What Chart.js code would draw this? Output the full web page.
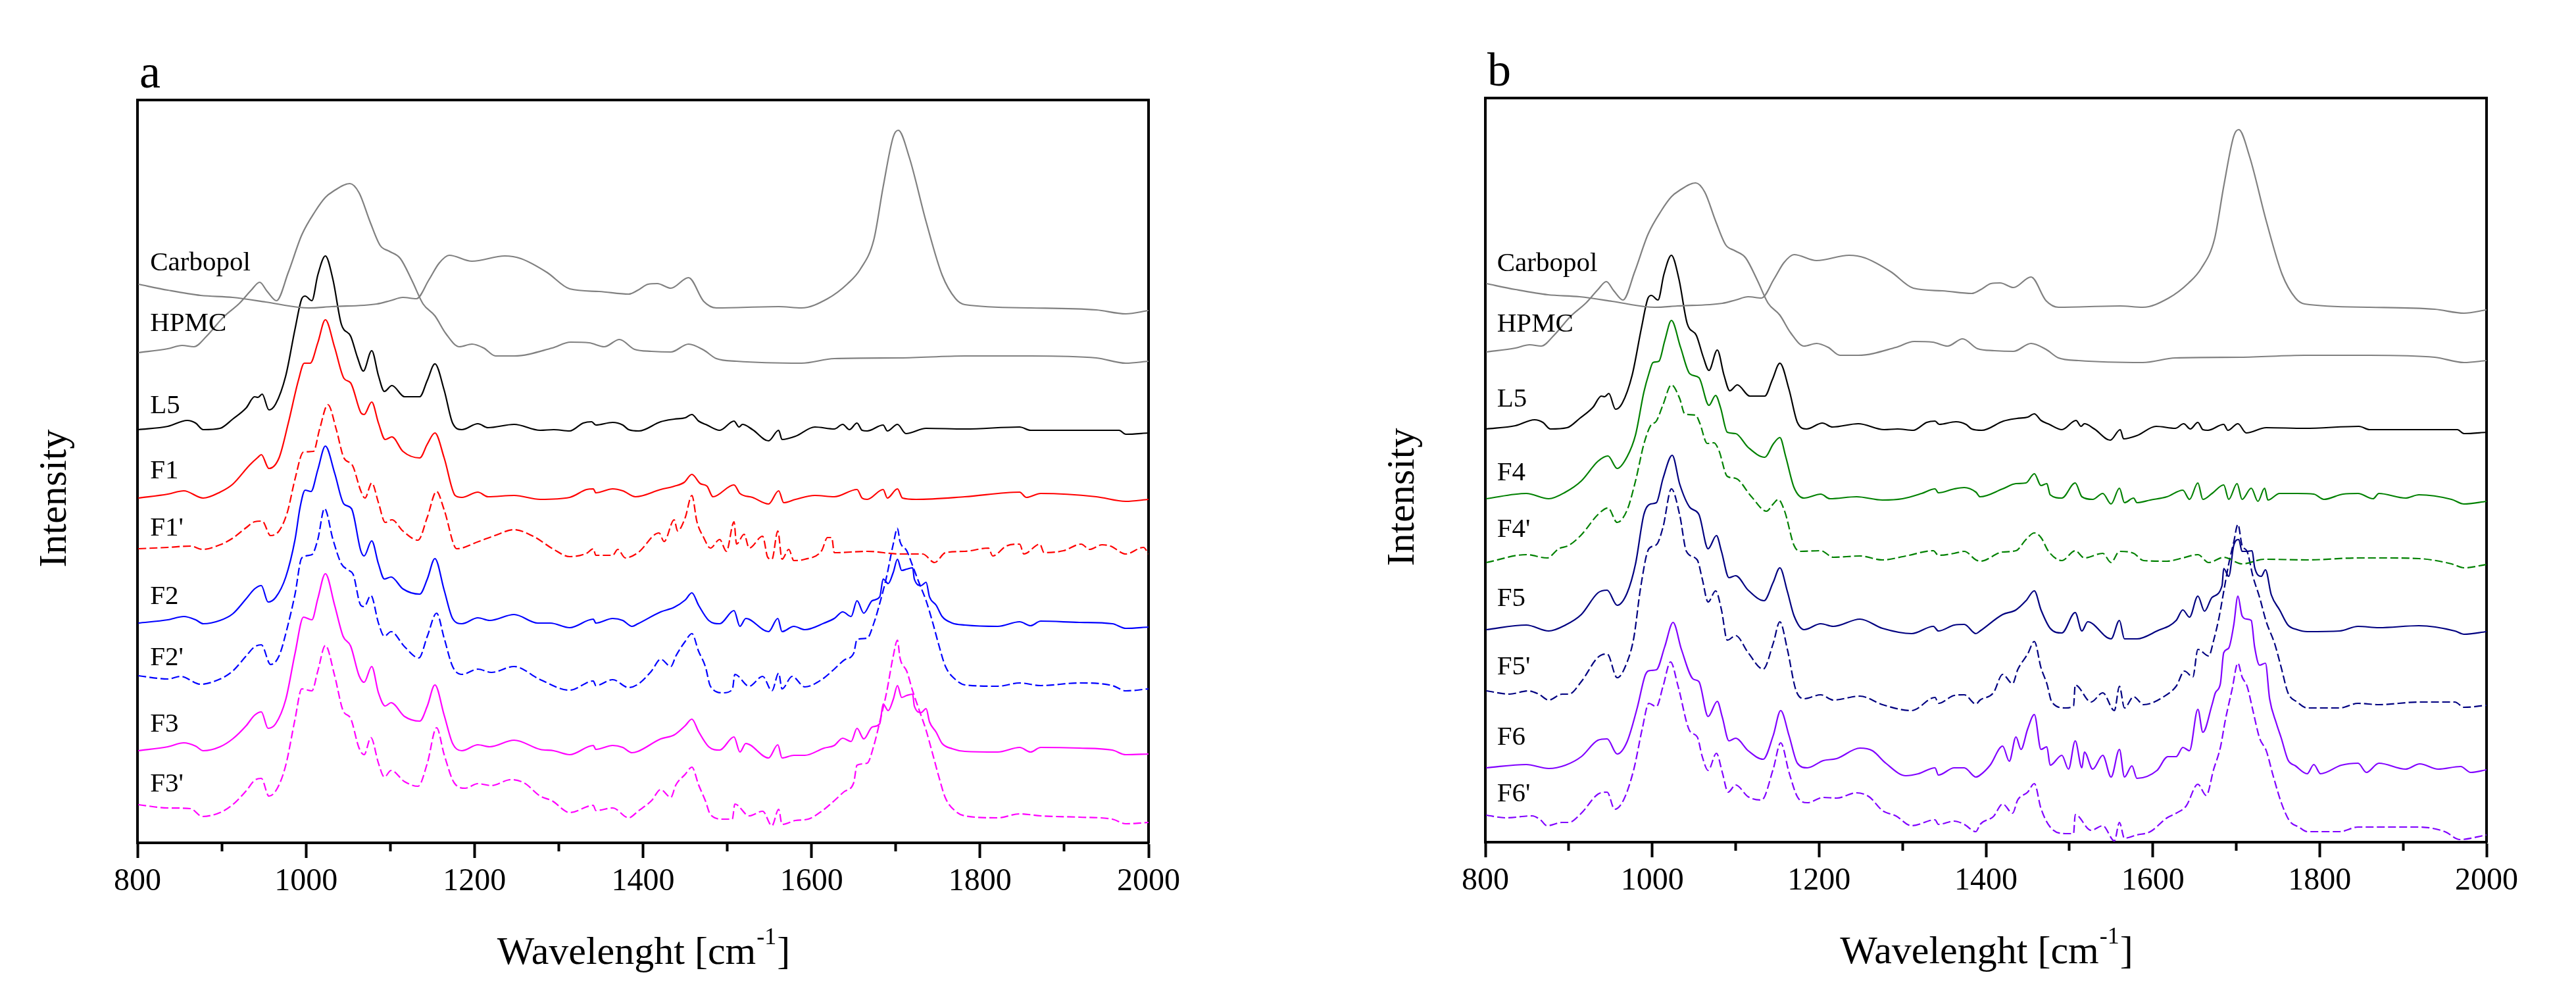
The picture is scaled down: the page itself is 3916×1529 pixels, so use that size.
<!DOCTYPE html>
<html>
<head>
<meta charset="utf-8">
<title>Spectra a / b</title>
<script src="https://cdn.jsdelivr.net/npm/chart.js@4.4.1/dist/chart.umd.min.js"></script>
<style>
  html, body { margin: 0; padding: 0; background: #fff; }
  #wrap { position: relative; width: 3916px; height: 1529px; }
  .panel { position: absolute; top: 0; width: 1958px; height: 1529px; }
  .probe { position: absolute; left: -9999px; font-family: "Liberation Serif"; }
</style>
</head>
<body>
<div id="wrap">
  <div class="panel" style="left:0"><canvas id="chartA"></canvas></div>
  <div class="panel" style="left:1958px"><canvas id="chartB"></canvas></div>
</div>
<span class="probe">Wavelenght 0123456789</span>
<script>
// x axis (wavenumber, cm-1)
const xMajorTicks = [800, 1000, 1200, 1400, 1600, 1800, 2000];
const xMinorTicks = [900, 1100, 1300, 1500, 1700, 1900];

// spectra, [wavenumber, stacked intensity (a.u.)]
const carbopol = [[801,849],[836,840],[875,832],[913,829],[952,822],[991,814],[1003,813],[1030,815],[1084,819],[1100,824],[1115,829],[1131,827],[1146,856],[1158,881],[1170,893],[1197,884],[1236,892],[1255,888],[1286,867],[1313,842],[1348,838],[1383,834],[1394,840],[1406,849],[1417,850],[1433,843],[1454,859],[1472,823],[1487,813],[1561,815],[1588,813],[1619,827],[1643,850],[1658,872],[1674,917],[1685,997],[1697,1073],[1703,1083],[1716,1042],[1736,944],[1755,863],[1771,827],[1782,818],[1860,813],[1938,810],[1973,804],[2000,809]];

const hpmc = [[801,745],[836,751],[853,756],[867,754],[882,770],[902,799],[921,820],[935,840],[945,852],[954,838],[965,824],[979,867],[995,924],[1011,960],[1023,981],[1032,990],[1052,1002],[1063,988],[1076,944],[1088,908],[1099,899],[1112,888],[1126,854],[1139,819],[1153,801],[1166,774],[1182,754],[1197,758],[1211,752],[1225,740],[1247,740],[1292,752],[1314,761],[1336,760],[1354,754],[1372,765],[1390,750],[1410,747],[1433,746],[1454,758],[1472,749],[1487,736],[1511,732],[1588,729],[1627,736],[1705,737],[1782,740],[1860,740],[1938,737],[1973,729],[2000,732]];

const l5 = [[801,628],[836,633],[859,642],[869,638],[878,628],[898,630],[913,644],[929,661],[939,678],[943,677],[948,682],[956,658],[964,667],[976,710],[987,781],[995,827],[999,831],[1007,824],[1014,863],[1023,892],[1032,856],[1042,788],[1053,770],[1061,738],[1068,717],[1078,748],[1086,710],[1093,686],[1102,695],[1117,678],[1135,678],[1144,703],[1153,728],[1164,688],[1174,638],[1185,628],[1204,637],[1216,631],[1247,636],[1278,627],[1294,628],[1313,626],[1329,638],[1339,640],[1344,635],[1364,639],[1376,635],[1383,628],[1395,626],[1421,640],[1437,644],[1450,646],[1458,651],[1466,641],[1476,635],[1491,627],[1508,641],[1514,632],[1518,636],[1530,628],[1549,611],[1561,627],[1565,613],[1581,618],[1604,632],[1627,629],[1637,636],[1645,628],[1654,638],[1660,627],[1666,626],[1685,635],[1690,626],[1702,636],[1712,622],[1736,630],[1782,629],[1847,632],[1860,627],[1899,627],[1965,627],[1973,621],[2000,623]];

const f1 = [[801,524],[836,530],[855,535],[878,524],[898,533],[913,545],[933,574],[943,586],[947,590],[956,569],[968,585],[979,638],[991,703],[998,729],[1005,729],[1014,760],[1023,795],[1034,753],[1045,706],[1053,699],[1065,654],[1069,651],[1078,670],[1086,638],[1094,613],[1102,617],[1115,595],[1135,585],[1144,606],[1153,623],[1164,585],[1177,528],[1185,525],[1204,533],[1216,526],[1247,528],[1278,522],[1313,525],[1333,537],[1341,538],[1344,532],[1364,538],[1376,535],[1391,526],[1421,537],[1437,542],[1449,548],[1458,560],[1468,546],[1476,542],[1483,526],[1508,544],[1515,531],[1530,525],[1549,515],[1561,535],[1567,517],[1581,522],[1604,528],[1627,526],[1654,537],[1660,524],[1666,522],[1685,537],[1690,524],[1702,538],[1708,524],[1724,522],[1782,526],[1847,533],[1855,525],[1872,531],[1938,526],[1973,519],[2000,522]];

const f1p = [[801,447],[836,449],[863,451],[877,446],[898,453],[913,463],[929,479],[939,488],[948,489],[958,467],[968,474],[978,503],[987,553],[997,594],[1009,595],[1016,628],[1026,666],[1036,628],[1045,585],[1055,574],[1065,535],[1070,524],[1078,547],[1086,517],[1094,487],[1102,491],[1115,474],[1133,460],[1144,495],[1155,534],[1164,506],[1179,447],[1205,458],[1224,467],[1247,476],[1271,465],[1294,446],[1313,435],[1333,440],[1341,447],[1344,437],[1364,437],[1370,446],[1379,433],[1394,441],[1419,471],[1425,458],[1437,491],[1441,474],[1450,494],[1458,528],[1464,488],[1472,464],[1480,448],[1491,461],[1499,443],[1508,488],[1511,454],[1520,469],[1526,448],[1542,466],[1548,434],[1553,431],[1560,474],[1565,431],[1573,446],[1579,429],[1592,431],[1612,444],[1619,464],[1624,464],[1627,441],[1666,443],[1705,439],[1732,439],[1746,426],[1759,441],[1782,443],[1810,448],[1815,436],[1831,451],[1847,454],[1852,439],[1871,454],[1876,441],[1899,444],[1920,454],[1930,446],[1945,453],[1955,451],[1973,439],[1994,449],[2000,439]];

const f2 = [[801,334],[836,339],[855,344],[869,339],[878,333],[898,338],[913,348],[929,371],[939,386],[947,391],[955,366],[964,373],[976,404],[987,461],[993,510],[999,536],[1006,534],[1014,567],[1023,603],[1034,562],[1045,515],[1054,508],[1065,444],[1069,436],[1078,459],[1086,424],[1093,401],[1101,404],[1115,386],[1135,378],[1144,401],[1153,432],[1164,384],[1174,341],[1185,333],[1204,342],[1218,338],[1247,347],[1275,334],[1290,334],[1313,327],[1341,340],[1344,334],[1364,341],[1376,338],[1387,329],[1394,333],[1421,351],[1437,358],[1450,369],[1458,380],[1466,361],[1478,338],[1491,333],[1508,353],[1515,329],[1522,341],[1549,321],[1560,341],[1565,321],[1579,329],[1592,324],[1615,334],[1627,341],[1637,351],[1647,344],[1654,368],[1662,349],[1672,368],[1681,374],[1685,401],[1691,394],[1697,411],[1702,431],[1707,414],[1713,416],[1720,418],[1722,401],[1730,391],[1736,396],[1740,374],[1748,361],[1755,344],[1767,334],[1782,331],[1821,329],[1847,336],[1860,330],[1872,337],[1918,335],[1957,333],[1973,326],[2000,328]];

const f2p = [[801,254],[836,249],[851,253],[875,241],[898,249],[913,261],[929,284],[939,298],[947,301],[958,271],[968,284],[978,328],[987,378],[995,433],[1007,438],[1014,461],[1022,508],[1032,461],[1042,424],[1051,414],[1056,408],[1065,361],[1069,359],[1077,376],[1086,334],[1093,314],[1101,321],[1117,298],[1134,281],[1144,314],[1155,349],[1164,311],[1174,268],[1185,256],[1204,264],[1220,259],[1247,268],[1278,248],[1313,232],[1341,246],[1344,239],[1364,248],[1383,236],[1394,241],[1410,261],[1421,279],[1433,268],[1439,284],[1450,306],[1458,318],[1466,291],[1474,268],[1480,238],[1495,228],[1506,233],[1509,256],[1526,238],[1542,253],[1553,231],[1561,258],[1565,234],[1577,253],[1592,237],[1612,248],[1627,264],[1639,278],[1650,288],[1654,309],[1666,311],[1674,334],[1681,364],[1689,404],[1697,454],[1702,478],[1705,458],[1713,444],[1720,421],[1728,394],[1736,368],[1744,334],[1751,301],[1759,268],[1771,248],[1782,240],[1821,238],[1847,243],[1872,239],[1918,243],[1957,239],[1973,231],[2000,234]];

const f3 = [[801,140],[836,146],[855,152],[869,147],[878,140],[898,146],[913,158],[929,178],[939,194],[947,199],[955,174],[964,181],[976,218],[987,288],[997,343],[1007,339],[1014,371],[1023,409],[1034,361],[1044,314],[1053,299],[1063,254],[1069,244],[1078,268],[1086,228],[1094,208],[1101,213],[1117,192],[1135,185],[1144,208],[1153,240],[1164,194],[1174,151],[1185,140],[1204,149],[1218,146],[1247,156],[1278,142],[1294,140],[1313,134],[1341,148],[1344,142],[1364,148],[1376,145],[1387,137],[1394,139],[1421,158],[1437,164],[1450,178],[1458,188],[1466,169],[1478,146],[1491,141],[1508,161],[1515,138],[1522,151],[1549,129],[1560,149],[1565,129],[1579,133],[1592,133],[1615,144],[1627,148],[1637,159],[1647,154],[1654,174],[1662,158],[1672,176],[1681,181],[1685,211],[1691,201],[1697,218],[1702,239],[1707,221],[1713,224],[1720,226],[1722,208],[1730,198],[1736,204],[1740,184],[1748,168],[1755,151],[1767,143],[1782,139],[1821,138],[1847,145],[1860,138],[1872,145],[1918,144],[1957,141],[1973,134],[2000,135]];

const f3p = [[801,58],[836,53],[863,52],[877,40],[898,46],[913,58],[929,79],[939,95],[947,98],[956,71],[966,83],[976,118],[987,188],[995,234],[1007,231],[1014,261],[1023,300],[1034,254],[1044,201],[1053,189],[1063,144],[1069,134],[1077,160],[1086,121],[1093,100],[1101,110],[1117,93],[1133,86],[1144,121],[1155,175],[1164,134],[1176,91],[1189,83],[1204,90],[1220,87],[1243,96],[1259,91],[1278,71],[1292,64],[1313,46],[1341,57],[1344,49],[1364,53],[1383,38],[1394,48],[1410,64],[1421,81],[1433,69],[1439,88],[1450,104],[1458,115],[1466,88],[1474,64],[1480,43],[1495,36],[1506,36],[1509,59],[1526,41],[1542,48],[1553,26],[1561,51],[1565,28],[1581,34],[1596,36],[1612,48],[1627,64],[1639,78],[1650,91],[1654,118],[1666,121],[1674,148],[1681,184],[1689,228],[1697,284],[1702,308],[1705,281],[1713,261],[1720,231],[1728,201],[1736,171],[1744,134],[1751,101],[1759,68],[1771,48],[1782,41],[1821,38],[1847,44],[1872,41],[1918,39],[1957,36],[1973,29],[2000,31]];

const f4 = [[801,522],[849,530],[876,522],[896,532],[915,549],[935,579],[947,587],[958,568],[970,586],[980,619],[990,684],[996,712],[1001,729],[1008,731],[1015,762],[1023,793],[1034,752],[1045,712],[1056,706],[1068,664],[1076,679],[1082,660],[1090,623],[1100,621],[1115,600],[1135,585],[1145,605],[1153,615],[1160,586],[1170,539],[1182,523],[1202,529],[1213,522],[1245,525],[1276,520],[1300,522],[1323,530],[1339,537],[1343,531],[1362,537],[1374,539],[1388,532],[1393,525],[1420,537],[1436,545],[1448,546],[1458,560],[1466,542],[1473,545],[1477,528],[1491,523],[1507,546],[1515,525],[1528,521],[1540,530],[1550,514],[1560,538],[1566,516],[1577,523],[1581,516],[1597,520],[1617,525],[1636,535],[1644,521],[1654,546],[1660,521],[1671,530],[1685,543],[1691,521],[1701,545],[1707,521],[1718,538],[1726,518],[1734,538],[1738,520],[1752,530],[1773,530],[1793,529],[1805,521],[1828,529],[1846,530],[1864,522],[1871,530],[1903,523],[1919,528],[1958,521],[1973,514],[2000,518]];

const f4p = [[801,425],[849,437],[874,432],[888,446],[900,451],[915,467],[935,498],[947,508],[958,486],[970,505],[980,549],[990,605],[998,633],[1005,640],[1013,665],[1023,695],[1033,674],[1039,651],[1052,649],[1057,637],[1066,606],[1074,607],[1080,595],[1090,556],[1100,553],[1119,525],[1137,503],[1145,514],[1151,521],[1159,502],[1170,451],[1178,442],[1202,443],[1217,433],[1249,435],[1276,429],[1304,435],[1337,443],[1343,436],[1362,439],[1374,442],[1388,429],[1393,427],[1420,441],[1436,443],[1448,460],[1458,470],[1466,463],[1475,442],[1491,428],[1507,443],[1518,432],[1540,439],[1550,425],[1560,442],[1577,439],[1589,428],[1617,427],[1636,432],[1654,437],[1667,425],[1685,433],[1707,423],[1734,430],[1785,429],[1846,432],[1871,432],[1919,431],[1958,423],[1973,417],[2000,422]];

const f5 = [[801,323],[849,330],[876,321],[896,330],[915,346],[935,379],[946,383],[958,360],[970,379],[980,423],[990,498],[998,514],[1005,516],[1013,553],[1024,588],[1033,544],[1045,509],[1056,498],[1067,446],[1077,466],[1083,442],[1092,402],[1100,405],[1115,383],[1134,367],[1145,395],[1153,417],[1162,381],[1170,344],[1182,323],[1202,332],[1217,328],[1249,339],[1276,325],[1311,317],[1337,328],[1343,321],[1362,330],[1374,331],[1388,317],[1393,321],[1420,346],[1436,353],[1448,367],[1458,382],[1466,353],[1477,325],[1491,318],[1507,349],[1515,321],[1522,335],[1550,309],[1560,337],[1566,309],[1581,309],[1605,321],[1628,337],[1636,353],[1644,342],[1654,374],[1662,351],[1671,372],[1683,390],[1685,416],[1691,404],[1697,451],[1703,460],[1707,442],[1713,442],[1719,443],[1722,418],[1730,404],[1735,414],[1742,376],[1752,353],[1762,330],[1773,323],[1785,320],[1824,321],[1846,328],[1871,326],[1919,329],[1962,321],[1973,316],[2000,320]];

const f5p = [[801,230],[829,225],[851,230],[864,225],[876,216],[892,225],[900,225],[915,244],[935,281],[946,286],[958,250],[970,274],[978,311],[986,386],[996,446],[1005,452],[1013,479],[1023,537],[1033,497],[1041,442],[1054,429],[1060,400],[1067,365],[1076,382],[1083,353],[1090,307],[1100,314],[1115,288],[1133,263],[1145,302],[1153,335],[1162,293],[1172,232],[1182,218],[1202,224],[1217,216],[1249,222],[1276,209],[1311,200],[1339,220],[1343,211],[1362,223],[1374,224],[1388,210],[1393,216],[1409,227],[1420,255],[1432,241],[1438,262],[1450,286],[1458,305],[1466,265],[1473,241],[1479,213],[1495,204],[1505,207],[1507,239],[1526,213],[1540,227],[1554,200],[1560,237],[1566,204],[1577,221],[1589,209],[1613,221],[1628,237],[1638,260],[1648,251],[1654,293],[1667,283],[1673,307],[1679,339],[1685,381],[1691,423],[1697,456],[1702,483],[1707,451],[1713,442],[1720,404],[1728,372],[1736,335],[1746,302],[1754,265],[1762,227],[1773,213],[1785,204],[1824,204],[1846,211],[1871,209],[1919,213],[1962,213],[1973,205],[2000,208]];

const f6 = [[801,113],[849,118],[876,112],[896,117],[915,130],[935,155],[946,157],[958,134],[970,153],[982,204],[992,255],[998,261],[1005,262],[1015,297],[1025,334],[1035,293],[1049,248],[1056,244],[1067,191],[1078,214],[1084,190],[1092,154],[1100,158],[1115,139],[1133,126],[1145,162],[1154,200],[1164,162],[1174,120],[1186,113],[1205,124],[1221,127],[1249,143],[1264,139],[1280,120],[1304,101],[1319,104],[1339,113],[1343,102],[1362,113],[1374,113],[1388,99],[1393,102],[1405,117],[1420,146],[1428,123],[1436,160],[1442,141],[1450,172],[1458,194],[1466,141],[1473,145],[1477,117],[1491,132],[1499,111],[1507,154],[1515,113],[1518,137],[1528,111],[1540,132],[1550,99],[1560,141],[1566,99],[1575,116],[1581,97],[1605,109],[1618,130],[1628,130],[1636,144],[1644,139],[1654,202],[1660,167],[1671,209],[1675,227],[1681,241],[1685,288],[1691,295],[1697,330],[1702,374],[1707,344],[1713,339],[1718,337],[1722,297],[1728,269],[1735,272],[1740,218],[1748,181],[1754,158],[1762,125],[1771,116],[1785,104],[1793,118],[1801,104],[1826,117],[1846,120],[1856,106],[1871,120],[1903,111],[1920,119],[1942,111],[1969,115],[1981,106],[2000,110]];

const f6p = [[801,41],[825,37],[856,40],[866,34],[874,25],[892,30],[900,30],[915,44],[935,73],[946,76],[955,50],[966,65],[978,111],[988,172],[996,211],[1005,206],[1013,237],[1022,274],[1031,237],[1045,169],[1054,160],[1060,130],[1067,109],[1077,135],[1084,106],[1091,76],[1100,87],[1115,69],[1131,64],[1145,111],[1154,151],[1164,106],[1174,69],[1186,60],[1205,68],[1221,67],[1245,75],[1260,69],[1276,48],[1292,40],[1311,25],[1339,34],[1343,27],[1362,32],[1374,27],[1388,16],[1393,27],[1409,39],[1420,58],[1432,44],[1438,64],[1450,76],[1458,89],[1466,51],[1477,23],[1495,13],[1505,13],[1507,42],[1526,18],[1540,25],[1554,2],[1560,30],[1566,6],[1581,11],[1597,16],[1617,37],[1628,44],[1640,55],[1654,88],[1664,71],[1673,111],[1681,144],[1687,186],[1695,232],[1702,272],[1707,251],[1713,237],[1720,200],[1728,158],[1736,139],[1744,102],[1754,60],[1764,32],[1775,23],[1785,16],[1824,16],[1846,23],[1871,23],[1919,23],[1950,16],[1968,4],[2000,11]];

// which curves go in which panel, and how they look
const GRAY = '#808080';
const panelASeries = [
  { name: 'Carbopol', data: carbopol, color: GRAY },
  { name: 'HPMC', data: hpmc, color: GRAY },
  { name: 'L5', data: l5, color: '#000000' },
  { name: 'F1', data: f1, color: '#ff0000' },
  { name: "F1'", data: f1p, color: '#ff0000', dashed: true },
  { name: 'F2', data: f2, color: '#0000ff' },
  { name: "F2'", data: f2p, color: '#0000ff', dashed: true },
  { name: 'F3', data: f3, color: '#ff00ff' },
  { name: "F3'", data: f3p, color: '#ff00ff', dashed: true }
];
const panelBSeries = [
  { name: 'Carbopol', data: carbopol, color: GRAY },
  { name: 'HPMC', data: hpmc, color: GRAY },
  { name: 'L5', data: l5, color: '#000000' },
  { name: 'F4', data: f4, color: '#008000' },
  { name: "F4'", data: f4p, color: '#008000', dashed: true },
  { name: 'F5', data: f5, color: '#000080' },
  { name: "F5'", data: f5p, color: '#000080', dashed: true },
  { name: 'F6', data: f6, color: '#8000ff' },
  { name: "F6'", data: f6p, color: '#8000ff', dashed: true }
];

// where the curve names sit (wavenumber, intensity of text baseline)
const labelSpotsA = [['Carbopol', 815, 870], ['HPMC', 815, 778], ['L5', 815, 653], ['F1', 815, 554], ["F1'", 815, 467],
                     ['F2', 815, 363], ["F2'", 815, 270], ['F3', 815, 169], ["F3'", 815, 78]];
const labelSpotsB = [['Carbopol', 814, 868], ['HPMC', 814, 776], ['L5', 814, 662], ['F4', 814, 550], ["F4'", 814, 464],
                     ['F5', 814, 359], ["F5'", 814, 255], ['F6', 814, 148], ["F6'", 814, 62]];

const SERIF = '"Liberation Serif", "DejaVu Serif", serif';
Chart.defaults.font.family = SERIF;
Chart.defaults.color = '#000';

const PANEL_W = 1958, PANEL_H = 1529;

const panelText = {
  id: 'panelText',
  afterDraw(chart, args, opts) {
    const { ctx, chartArea: ca } = chart;
    const xs = chart.scales.x, ys = chart.scales.y;
    ctx.save();
    ctx.fillStyle = '#000';
    ctx.textBaseline = 'alphabetic';
    ctx.textAlign = 'left';

    // panel letter
    ctx.font = '72px ' + SERIF;
    ctx.fillText(opts.letter, ca.left + 3, ca.top - 19);

    // curve names
    ctx.font = '41px ' + SERIF;
    opts.spots.forEach(([name, xv, yv]) => {
      ctx.fillText(name, xs.getPixelForValue(xv), ys.getPixelForValue(yv));
    });

    // x title with superscript
    const main = 'Wavelenght [cm', sup = '-1', tail = ']';
    ctx.font = '60px ' + SERIF;
    const w1 = ctx.measureText(main).width, w3 = ctx.measureText(tail).width;
    ctx.font = '36px ' + SERIF;
    const w2 = ctx.measureText(sup).width;
    const tx = (ca.left + ca.right) / 2 - (w1 + w2 + w3) / 2;
    const base = ca.bottom + 184;
    ctx.font = '60px ' + SERIF;
    ctx.fillText(main, tx, base);
    ctx.font = '36px ' + SERIF;
    ctx.fillText(sup, tx + w1 + 1, base - 30);
    ctx.font = '60px ' + SERIF;
    ctx.fillText(tail, tx + w1 + w2 + 2, base);

    // y title
    ctx.translate(ca.left - 109, (ca.top + ca.bottom) / 2 + 41);
    ctx.rotate(-Math.PI / 2);
    ctx.textAlign = 'center';
    ctx.fillText('Intensity', 0, 0);
    ctx.restore();
  }
};

function buildPanel(canvasId, letter, series, spots, box) {
  const yMax = box.bottom - box.top;
  const datasets = series.map(s => ({
    label: s.name,
    data: s.data.map(([x, y]) => ({ x, y })),
    borderColor: s.color,
    backgroundColor: s.color,
    borderWidth: 2.2,
    borderDash: s.dashed ? [12, 5] : [],
    pointRadius: 0,
    cubicInterpolationMode: 'monotone',
    fill: false
  }));

  return new Chart(document.getElementById(canvasId), {
    type: 'line',
    data: { datasets },
    options: {
      responsive: true,
      maintainAspectRatio: false,
      animation: false,
      events: [],
      layout: { padding: { left: 0, right: PANEL_W - box.right, top: box.top, bottom: 0 } },
      plugins: {
        legend: { display: false },
        tooltip: { enabled: false },
        panelText: { letter, spots }
      },
      scales: {
        x: {
          type: 'linear', position: 'bottom', min: 800, max: 2000,
          afterBuildTicks: s => { s.ticks = xMajorTicks.map(v => ({ value: v })); },
          afterFit: s => { s.height = PANEL_H - box.bottom; },
          ticks: {
            font: { size: 48, family: SERIF }, color: '#000', padding: 8,
            maxRotation: 0, autoSkip: false,
            callback: v => String(v)
          },
          grid: { drawOnChartArea: false, drawTicks: true, tickLength: 23, tickWidth: 4, tickColor: '#000' },
          border: { display: true, width: 4, color: '#000' }
        },
        xMinor: {
          type: 'linear', position: 'bottom', min: 800, max: 2000, weight: -1,
          afterBuildTicks: s => { s.ticks = xMinorTicks.map(v => ({ value: v })); },
          afterFit: s => { s.height = 0; },
          ticks: { display: false },
          grid: { drawOnChartArea: false, drawTicks: true, tickLength: 13, tickWidth: 4, tickColor: '#000' },
          border: { display: false }
        },
        xTop: {
          type: 'linear', position: 'top', min: 800, max: 2000,
          afterFit: s => { s.height = 0; },
          ticks: { display: false },
          grid: { drawOnChartArea: false, drawTicks: false },
          border: { display: true, width: 4, color: '#000' }
        },
        y: {
          type: 'linear', position: 'left', min: 0, max: yMax,
          afterFit: s => { s.width = box.left; },
          ticks: { display: false },
          grid: { drawOnChartArea: false, drawTicks: false },
          border: { display: true, width: 4, color: '#000' }
        },
        yRight: {
          type: 'linear', position: 'right', min: 0, max: yMax,
          afterFit: s => { s.width = 0; },
          ticks: { display: false },
          grid: { drawOnChartArea: false, drawTicks: false },
          border: { display: true, width: 4, color: '#000' }
        }
      }
    },
    plugins: [panelText]
  });
}

function drawAll() {
  buildPanel('chartA', 'a', panelASeries, labelSpotsA, { left: 209, right: 1746, top: 152, bottom: 1281 });
  buildPanel('chartB', 'b', panelBSeries, labelSpotsB, { left: 300, right: 1822, top: 149, bottom: 1280 });
}

// make sure the serif face is ready before the canvases paint text
Promise.all([
  document.fonts.load('48px "Liberation Serif"'),
  document.fonts.load('72px "Liberation Serif"')
]).then(drawAll, drawAll);
</script>
</body>
</html>
